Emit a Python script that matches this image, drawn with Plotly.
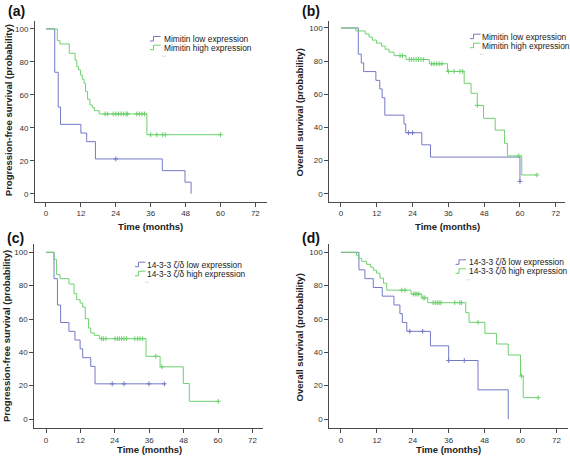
import plotly.graph_objects as go

W, H = 570, 457

# ---------------- data ----------------
# (a) Progression-free survival by Mimitin expression
a_low_t = [0, 3.0, 4.2, 5.0, 12.0, 14.0, 17.0, 40.0, 47.8, 49.9]
a_low_s = [100, 73.7, 52.6, 42.1, 36.8, 31.6, 21.1, 14.0, 7.0, 0]
a_low_end = 49.9
a_low_cens = [24.0]
a_high_t = [0, 3.9, 4.8, 8.0, 10.0, 10.6, 11.2, 11.9, 12.5, 13.1, 13.6, 14.3, 15.1, 15.9, 16.6, 18.3, 34.7]
a_high_s = [100, 92.9, 90.9, 85.2, 81.0, 77.1, 75.1, 72.0, 69.4, 67.0, 62.0, 57.3, 53.8, 52.4, 50.4, 48.4, 35.8]
a_high_end = 60.0
a_high_cens = [20.3, 21.2, 23.1, 24.0, 24.9, 25.8, 26.7, 27.6, 28.1, 31.2, 32.1, 33.0, 33.9,
               36.0, 38.1, 40.1, 41.0, 60.0]

# (b) Overall survival by Mimitin expression
b_low_t = [0, 5.8, 6.8, 7.6, 11.7, 13.0, 13.8, 14.7, 21.1, 21.7, 27.1, 30.0, 60.0]
b_low_s = [100, 84.2, 78.9, 73.7, 68.4, 63.2, 57.9, 47.4, 42.1, 36.8, 29.5, 22.1, 7.4]
b_low_end = 60.0
b_low_cens = [22.6, 24.0, 60.0]
b_high_t = [0, 5.0, 8.1, 9.4, 10.5, 11.9, 13.6, 14.8, 16.1, 17.8, 21.8, 29.6, 35.7, 41.3, 43.6,
            45.7, 47.8, 51.7, 54.8, 55.8, 60.6]
b_high_s = [100, 98.2, 96.4, 94.5, 92.7, 90.9, 89.1, 87.2, 85.4, 83.3, 81.0, 78.4, 73.8, 66.6, 60.6,
            53.3, 45.5, 38.4, 30.4, 22.8, 11.3]
b_high_end = 65.7
b_high_cens = [19.8, 20.6, 22.9, 23.6, 24.4, 25.2, 26.0, 26.8, 27.6, 30.4, 31.2, 32.1, 32.9, 33.8,
               36.0, 37.9, 39.9, 40.8, 45.7, 59.6, 65.7]

# (c) Progression-free survival by 14-3-3 zeta/delta expression
c_low_t = [0, 2.8, 4.0, 5.1, 8.0, 10.1, 11.9, 12.8, 15.6, 17.1]
c_low_s = [100, 84.2, 68.4, 57.9, 52.6, 47.4, 42.1, 36.8, 31.6, 21.1]
c_low_end = 41.3
c_low_cens = [23.1, 27.2, 35.9, 41.3]
c_high_t = [0, 2.8, 3.7, 4.9, 8.0, 9.8, 10.7, 11.9, 12.8, 13.7, 14.8, 15.6, 16.9, 18.6, 34.9, 39.8,
            47.9, 50.0]
c_high_s = [100, 95.8, 86.6, 84.2, 81.0, 75.2, 71.6, 69.6, 67.2, 60.2, 54.6, 51.6, 50.2, 48.2, 37.6,
            31.3, 21.3, 10.6]
c_high_end = 60.1
c_high_cens = [19.4, 20.0, 20.9, 24.1, 24.9, 25.6, 26.4, 27.2, 28.1, 31.0, 32.0, 32.8, 33.7,
               38.3, 40.4, 60.1]

# (d) Overall survival by 14-3-3 zeta/delta expression
d_low_t = [0, 6.0, 8.0, 10.8, 13.8, 17.7, 19.7, 20.5, 22.0, 29.9, 36.0, 45.8, 55.9]
d_low_s = [100, 89.5, 84.2, 78.9, 73.7, 68.4, 63.2, 57.9, 52.6, 43.9, 35.1, 17.5, 0]
d_low_end = 55.9
d_low_cens = [23.0, 27.3, 36.0, 41.2]
d_high_t = [0, 5.2, 5.8, 6.9, 8.6, 9.9, 10.8, 11.9, 13.0, 14.2, 15.3, 23.4, 27.0, 29.0, 41.7, 42.8,
            48.1, 52.0, 55.9, 60.0, 60.9]
d_high_s = [100, 98.2, 96.4, 94.6, 92.8, 91.1, 89.3, 87.5, 84.5, 81.5, 77.3, 75.0, 72.7, 69.8, 63.8,
            58.0, 51.4, 45.0, 38.4, 25.8, 12.8]
d_high_end = 65.9
d_high_cens = [20.3, 21.4, 24.2, 24.8, 25.4, 26.0, 27.4, 28.0, 30.8, 31.5, 32.2, 32.8, 33.4,
               38.0, 39.7, 40.3, 45.8, 60.3, 65.9]

x_ticks = [0, 12, 24, 36, 48, 60, 72]
y_ticks = [0, 20, 40, 60, 80, 100]

panel_labels = ["(a)", "(b)", "(c)", "(d)"]
y_titles = ["Progression-free survival (probability)", "Overall survival (probability)",
            "Progression-free survival (probability)", "Overall survival (probability)"]
x_title = "Time (months)"
legend_names = [["Mimitin low expression", "Mimitin high expression"],
                ["Mimitin low expression", "Mimitin high expression"],
                ["14-3-3 ζ/δ low expression", "14-3-3 ζ/δ high expression"],
                ["14-3-3 ζ/δ low expression", "14-3-3 ζ/δ high expression"]]

curves = [
    [(a_low_t, a_low_s, a_low_end, a_low_cens), (a_high_t, a_high_s, a_high_end, a_high_cens)],
    [(b_low_t, b_low_s, b_low_end, b_low_cens), (b_high_t, b_high_s, b_high_end, b_high_cens)],
    [(c_low_t, c_low_s, c_low_end, c_low_cens), (c_high_t, c_high_s, c_high_end, c_high_cens)],
    [(d_low_t, d_low_s, d_low_end, d_low_cens), (d_high_t, d_high_s, d_high_end, d_high_cens)],
]

# ---------------- styling / layout ----------------
BLUE = "#7479c6"
GREEN = "#6fd16f"
COLORS = [BLUE, GREEN]
AXC = "#4a4a4a"
FONT = "Liberation Sans"

# pixel geometry per panel: axis box (left, right, top, bottom) and x/y ranges
geom = [
    dict(l=35, r=267, t=20.7, b=201.7, xr=[-3.78, 76.0], yr=[-4.86, 105.0]),
    dict(l=329.3, r=565, t=20.7, b=201.7, xr=[-3.92, 75.1], yr=[-4.83, 104.4]),
    dict(l=34.3, r=263.3, t=244, b=428, xr=[-4.08, 75.8], yr=[-5.4, 105.0]),
    dict(l=329.3, r=567.5, t=244, b=428, xr=[-3.9, 75.7], yr=[-5.4, 105.0]),
]


def px(x):
    return x / W


def py(y):
    return 1 - y / H


def surv_at(ts, ss, c):
    val = ss[0]
    for t, s in zip(ts, ss):
        if t <= c:
            val = s
    return val


fig = go.Figure()
annotations = []
shapes = []

for i in range(4):
    g = geom[i]
    sfx = "" if i == 0 else str(i + 1)
    xa, ya = "x" + sfx, "y" + sfx
    for j, (ts, ss, end, cens) in enumerate(curves[i]):
        xs = list(ts) + [end]
        ys = list(ss) + [ss[-1]]
        fig.add_trace(go.Scatter(x=xs, y=ys, mode="lines", line=dict(color=COLORS[j], width=1, shape="hv"),
                                 xaxis=xa, yaxis=ya, showlegend=False, hoverinfo="skip"))
        cy = [surv_at(ts, ss, c) for c in cens]
        fig.add_trace(go.Scatter(x=cens, y=cy, mode="markers",
                                 marker=dict(symbol="cross-thin", size=3.5, line=dict(color=COLORS[j], width=1)),
                                 xaxis=xa, yaxis=ya, showlegend=False, hoverinfo="skip"))
    axis_common = dict(showline=True, linecolor=AXC, linewidth=1, ticks="outside", ticklen=4,
                       tickcolor=AXC, tickwidth=1, showgrid=False, zeroline=False,
                       tickfont=dict(family=FONT, size=8, color="#333"), mirror=False)
    fig.layout["xaxis" + sfx] = dict(axis_common, domain=[px(g["l"]), px(g["r"])], range=g["xr"],
                                     tickvals=x_ticks, anchor=ya)
    fig.layout["yaxis" + sfx] = dict(axis_common, domain=[py(g["b"]), py(g["t"])], range=g["yr"],
                                     tickvals=y_ticks, anchor=xa)

# axis titles, panel labels, legends (positions in pixels)
ytitle_pos = [(8.5, 110.7), (298.5, 113), (6.5, 336.5), (298.5, 338)]
xtitle_pos = [(150, 226.5), (447, 226.5), (149.5, 449.8), (448, 449.8)]
label_pos = [(16, 11), (311, 11), (15.5, 238), (311, 238)]
legend_pos = [(150, 162, 39, 47.7), (470, 480, 36.7, 45.7), (135, 145, 264.7, 273.7), (455.5, 466.5, 262.3, 271.3)]

for i in range(4):
    x, y = ytitle_pos[i]
    annotations.append(dict(text="<b>%s</b>" % y_titles[i], x=px(x), y=py(y), xref="paper", yref="paper",
                            showarrow=False, textangle=-90, font=dict(family=FONT, size=9.5, color="#222"),
                            xanchor="center", yanchor="middle"))
    x, y = xtitle_pos[i]
    annotations.append(dict(text="<b>%s</b>" % x_title, x=px(x), y=py(y), xref="paper", yref="paper",
                            showarrow=False, font=dict(family=FONT, size=9.5, color="#222"),
                            xanchor="center", yanchor="middle", borderpad=0))
    x, y = label_pos[i]
    annotations.append(dict(text="<b>%s</b>" % panel_labels[i], x=px(x), y=py(y), xref="paper", yref="paper",
                            showarrow=False, font=dict(family=FONT, size=14, color="#111"),
                            xanchor="center", yanchor="middle"))
    ix, tx, r1, r2 = legend_pos[i]
    for j, ry in enumerate([r1, r2]):
        annotations.append(dict(text=legend_names[i][j], x=px(tx), y=py(ry), xref="paper", yref="paper",
                                showarrow=False, font=dict(family=FONT, size=8.4, color="#222"),
                                xanchor="left", yanchor="middle"))
        path = "M %f %f L %f %f L %f %f L %f %f" % (px(ix), py(ry + 2), px(ix + 3.5), py(ry + 2),
                                                    px(ix + 3.5), py(ry - 2.5), px(ix + 10.5), py(ry - 2.5))
        shapes.append(dict(type="path", path=path, xref="paper", yref="paper",
                           line=dict(color=COLORS[j], width=1)))
    # faint placeholder dash under the legend
    shapes.append(dict(type="line", xref="paper", yref="paper", x0=px(tx), x1=px(tx + 4),
                       y0=py(r2 + 8.5), y1=py(r2 + 8.5), line=dict(color="#dddddd", width=1)))

fig.update_layout(width=W, height=H, margin=dict(l=0, r=0, t=0, b=0), paper_bgcolor="white",
                  plot_bgcolor="white", showlegend=False, annotations=annotations, shapes=shapes,
                  font=dict(family=FONT))

fig.write_html("out.html", config={"displayModeBar": False},
               post_script="document.body.style.margin='0';document.body.style.overflow='hidden';")
